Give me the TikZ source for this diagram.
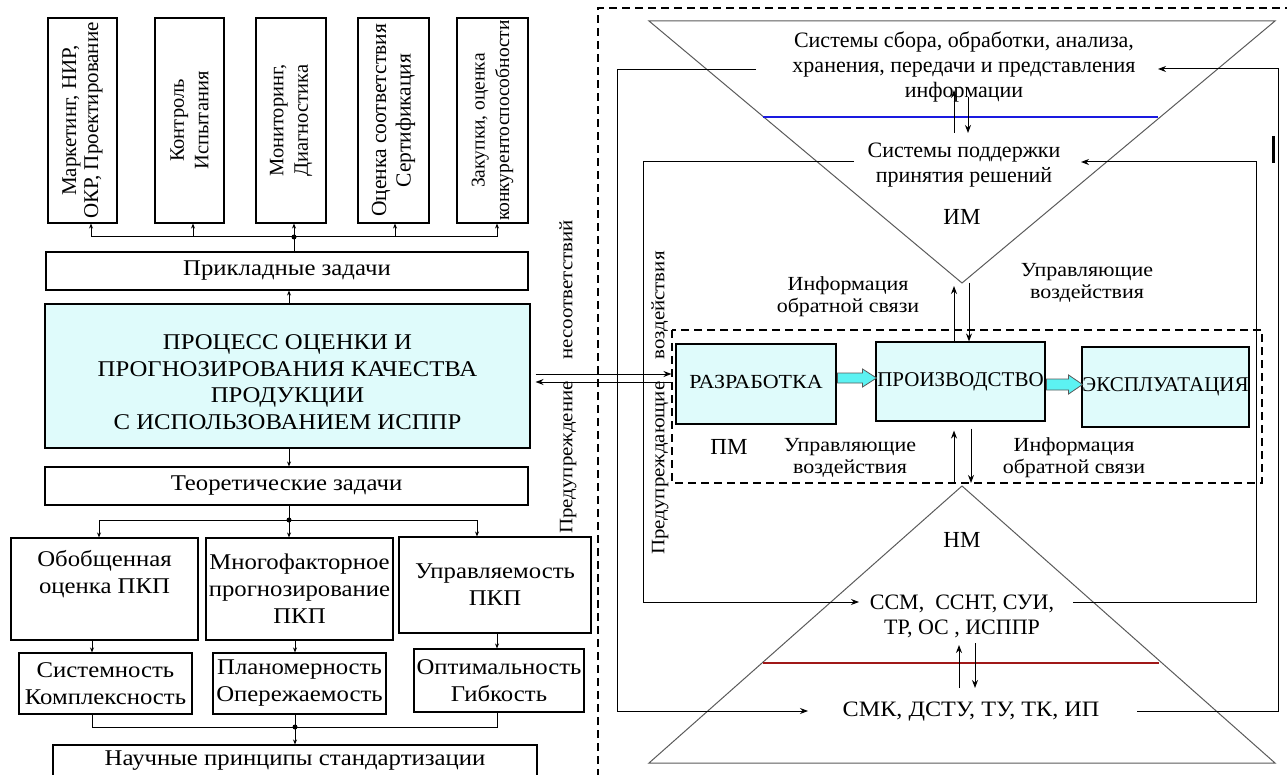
\documentclass[tikz,border=0pt]{standalone}
\usepackage{fontspec}
\setmainfont{Liberation Serif}
\newfontfamily\widef[FakeStretch=1.1]{Liberation Serif}
\usetikzlibrary{arrows.meta,calc}
\definecolor{lc}{HTML}{DFFBFB}
\definecolor{ac}{HTML}{5CF2F2}
\definecolor{tg}{HTML}{5A5A5A}
\definecolor{bl}{HTML}{1A1AE0}
\definecolor{rd}{HTML}{A01818}
\begin{document}
\begin{tikzpicture}[x=1pt,y=-1pt,
  every node/.style={font=\widef\fontsize{22.5}{27}\selectfont, inner sep=0pt, align=center},
  box/.style={draw, line width=1.1pt},
  vbox/.style={box, rotate=90, minimum width=205pt, font=\fontsize{20.5}{24.5}\selectfont},
  sbox/.style={box, fill=lc},
  ln/.style={line width=1pt},
  sarr/.style={line width=1pt, -{Stealth[length=5pt,width=4pt]}},
  arr/.style={line width=1pt, -{Stealth[length=8pt,width=6pt]}},
  tri/.style={draw=tg, line width=1pt},
  lbl/.style={font=\widef\fontsize{20}{22}\selectfont},
  vlbl/.style={font=\widef\fontsize{19}{22}\selectfont, rotate=90},
  rtxt/.style={font=\fontsize{22}{25}\selectfont},
  pmtxt/.style={font=\fontsize{21}{24}\selectfont},
  dashbox/.style={dash pattern=on 8pt off 5pt, line width=1.2pt},
  barrow/.style={fill=ac, draw=black!65, line width=0.8pt},
  jdot/.style={fill=black}
]
\useasboundingbox (0,0) rectangle (1287,775);

% ---------- left column ----------
\node[vbox, minimum height=69pt, font=\fontsize{21}{22}\selectfont] (b1) at (82.5,120.5) {Маркетинг, НИР,\\ОКР, Проектирование};
\node[vbox, minimum height=69pt] (b2) at (189.5,120.5) {Контроль\\Испытания};
\node[vbox, minimum height=70pt] (b3) at (291,120.5) {Мониторинг,\\Диагностика};
\node[vbox, minimum height=71pt, font=\fontsize{21.5}{24.5}\selectfont] (b4) at (393.5,120.5) {Оценка соответствия\\Сертификация};
\node[vbox, minimum height=71pt, font=\fontsize{19.5}{24.5}\selectfont] (b5) at (492.5,120.5) {Закупки, оценка\\конкурентоспособности};

\node[box, minimum width=482pt, minimum height=38pt] (prik) at (287,271) {Прикладные задачи};
\node[sbox, minimum width=485pt, minimum height=144pt] (proc) at (287.5,376) {};
\node[font=\widef\fontsize{22.5}{26.5}\selectfont] (proctxt) at (287.5,382) {ПРОЦЕСС ОЦЕНКИ И\\ПРОГНОЗИРОВАНИЯ КАЧЕСТВА\\ПРОДУКЦИИ\\С ИСПОЛЬЗОВАНИЕМ ИСППР};
\node[box, minimum width=483pt, minimum height=38pt] (teor) at (286.5,486) {Теоретические задачи};

\node[box, minimum width=187pt, minimum height=102pt] (A) at (104.5,589) {Обобщенная\\оценка ПКП\\\strut};
\node[box, minimum width=187pt, minimum height=102pt] (B) at (299.5,589) {Многофакторное\\прогнозирование\\ПКП};
\node[box, minimum width=192pt, minimum height=96pt] (C) at (495,585) {Управляемость\\ПКП};

\node[box, minimum width=173pt, minimum height=61pt] (sist) at (105.5,683.5) {Системность\\Комплексность};
\node[box, minimum width=173pt, minimum height=61pt] (plan) at (299.5,683.5) {Планомерность\\Опережаемость};
\node[box, minimum width=170pt, minimum height=63pt] (opt) at (499,680.5) {Оптимальность\\Гибкость};
\node[box, minimum width=484pt, minimum height=32pt] (nauch) at (295,761) {Научные принципы стандартизации};

% top bus
\coordinate (jt) at (294,237);
\coordinate (jt1) at (91,237);
\coordinate (jt2) at (193,237);
\coordinate (jt4) at (395,237);
\coordinate (jt5) at (497,237);
\coordinate (c289) at (289,0);
\draw[ln] (prik.north -| jt) -- (jt);
\draw[ln] (jt1) -- (jt5);
\draw[sarr] (jt1) -- (jt1 |- b1.west);
\draw[sarr] (jt2) -- (jt2 |- b2.west);
\draw[sarr] (jt) -- (jt |- b3.west);
\draw[sarr] (jt4) -- (jt4 |- b4.west);
\draw[sarr] (jt5) -- (jt5 |- b5.west);
\fill[jdot] (jt) circle (2.5);
\draw[sarr] (proc.north -| c289) -- (prik.south -| c289);
\draw[sarr] (proc.south -| c289) -- (teor.north -| c289);

% middle bus
\coordinate (jm) at (289,520);
\coordinate (jA) at (99,520);
\coordinate (jC) at (477,520);
\draw[ln] (teor.south -| jm) -- (jm);
\draw[ln] (jA) -- (jC);
\draw[sarr] (jA) -- (jA |- A.north);
\draw[sarr] (jm) -- (jm |- B.north);
\draw[sarr] (jC) -- (jC |- C.north);
\fill[jdot] (jm) circle (2.5);

\coordinate (xa) at (92,0);
\coordinate (xb) at (295,0);
\coordinate (xc) at (497,0);
\draw[sarr] (A.south -| xa) -- (sist.north -| xa);
\draw[sarr] (B.south -| xb) -- (plan.north -| xb);
\draw[sarr] (C.south -| xc) -- (opt.north -| xc);

% bottom bus
\coordinate (jb) at (295,727);
\draw[ln] (sist.south -| xa) -- (xa |- jb) -- (jb -| xc) -- (opt.south -| xc);
\draw[ln] (plan.south -| jb) -- (jb);
\draw[sarr] (jb) -- (nauch.north -| jb);
\fill[jdot] (jb) circle (2.5);

% ---------- right part ----------
\draw[dashbox] (598,790) -- (598,8) -- (1295,8);

\coordinate (imtip) at (962,283);
\coordinate (nmtip) at (962,486);
\draw[tri] (649,21) -- (1275,21) -- (imtip) -- cycle;
\draw[tri] (nmtip) -- (1275,763) -- (649,763) -- cycle;
\draw[bl, line width=1.3pt] (763,117) -- (1158,117);
\draw[rd, line width=1.3pt] (763,663) -- (1159,663);

\node[rtxt] (T1) at (964,67) {Системы сбора, обработки, анализа,\\хранения, передачи и представления\\информации};
\node[rtxt] (T2) at (964,165) {Системы поддержки\\принятия решений};
\node[rtxt, font=\fontsize{23}{25}\selectfont] (IM) at (962,217) {ИМ};
\node[rtxt, font=\fontsize{23}{25}\selectfont] (NM) at (962,540) {НМ};
\node[rtxt] (T3) at (962,616) {ССМ,\ \ ССНТ, СУИ,\\ТР, ОС , ИСППР};
\node[rtxt, font=\widef\fontsize{22}{25}\selectfont] (T4) at (971,712) {СМК, ДСТУ, ТУ, ТК, ИП};

% arrows between levels
\draw[arr] ([shift={(-10,-32)}]T2.center) -- ([shift={(-10,23)}]T1.center);
\draw[arr] ([shift={(4,30)}]T1.center) -- ([shift={(4,-32)}]T2.center);
\draw[arr] ([shift={(-12,-24)}]T4.center) -- ([shift={(-3,29)}]T3.center);
\draw[arr] ([shift={(13,27)}]T3.center) -- ([shift={(4,-24)}]T4.center);

% outer loop
\draw[arr] ([shift={(-208,3)}]T1.center) -- (617,70) -- (617,711) -- ([shift={(-163,-1)}]T4.center);
\draw[arr] ([shift={(166,-1)}]T4.center) -- (1278,711) -- (1278,69) -- ([shift={(194,2)}]T1.center);
% inner loop
\draw[arr] ([shift={(-110,-3)}]T2.center) -- (643,162) -- (643,602) -- ([shift={(-103,-14)}]T3.center);
\draw[arr] ([shift={(111,-14)}]T3.center) -- (1256,602) -- (1256,162) -- ([shift={(117,-3)}]T2.center);

\draw[line width=3pt] (1273,136) -- (1273,163);

% PM block
\draw[dashbox] (672,330) rectangle (1262,483);
\node[sbox, minimum width=160pt, minimum height=80pt, font=\widef\fontsize{20}{24}\selectfont] (R) at (756,384) {\raisebox{4pt}{РАЗРАБОТКА}};
\node[sbox, minimum width=169pt, minimum height=79pt, pmtxt] (P) at (960.5,381.5) {\raisebox{3pt}{ПРОИЗВОДСТВО}};
\node[sbox, minimum width=167pt, minimum height=80pt, pmtxt] (E) at (1165.5,387) {ЭКСПЛУАТАЦИЯ};

\draw[barrow] ([shift={(1,-11)}]R.east) -- ++(25,0) -- ++(0,-4) -- ++(14,9) -- ++(-14,9) -- ++(0,-4) -- ++(-25,0) -- cycle;
\draw[barrow] ([shift={(1,-2.5)}]P.east) -- ++(22,0) -- ++(0,-4) -- ++(14,9.5) -- ++(-14,9.5) -- ++(0,-4) -- ++(-22,0) -- cycle;

\draw[arr] ([shift={(-6.5,0)}]P.north) -- ([shift={(-8,3)}]imtip);
\draw[arr] ([shift={(7,0)}]imtip) -- ([shift={(8.5,0)}]P.north);
\draw[arr] ([shift={(-8,-3)}]nmtip) -- ([shift={(-6.5,9)}]P.south);
\draw[arr] ([shift={(10.5,7)}]P.south) -- ([shift={(9,-3)}]nmtip);

\draw[arr] ([shift={(5,-2)}]proc.east) -- ([shift={(-4,-10)}]R.west);
\draw[arr] ([shift={(-4,-2)}]R.west) -- ([shift={(5,6)}]proc.east);

\node[lbl] (lfb1) at (848,297) {Информация\\обратной связи};
\node[lbl] (lcv1) at (1087,283) {Управляющие\\воздействия};
\node[rtxt, font=\fontsize{23}{25}\selectfont] (pm) at (729,447) {ПМ};
\node[lbl] (lcv2) at (850,458) {Управляющие\\воздействия};
\node[lbl] (lfb2) at (1074,458) {Информация\\обратной связи};

\node[vlbl] (v1) at (568,377) {Предупреждение\hspace{22pt}несоответствий};
\node[vlbl] (v2) at (660,403) {Предупреждающие\hspace{22pt}воздействия};
\end{tikzpicture}
\end{document}
